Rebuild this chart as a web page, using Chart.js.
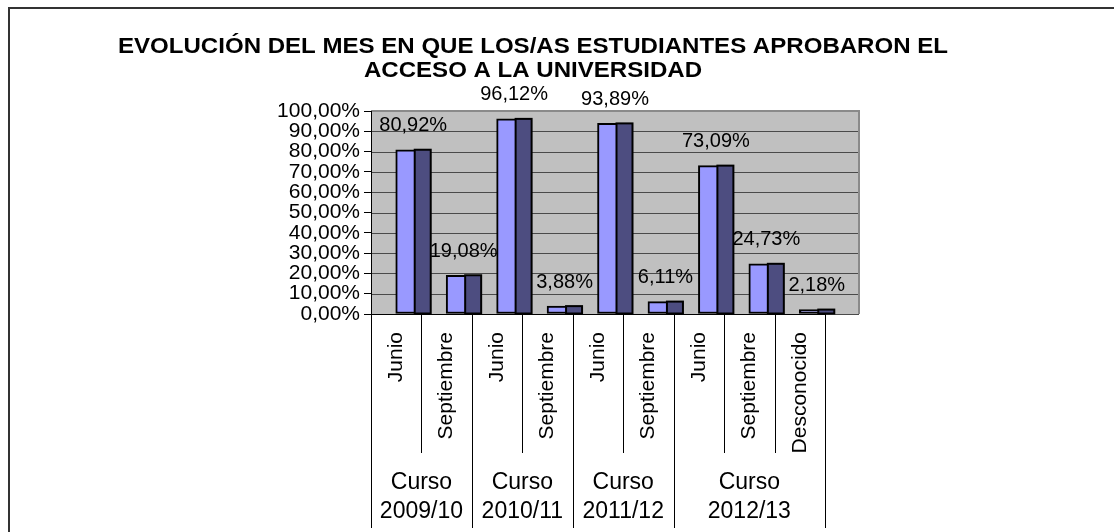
<!DOCTYPE html>
<html>
<head>
<meta charset="utf-8">
<script src="https://cdn.jsdelivr.net/npm/chart.js@4.4.1/dist/chart.umd.min.js"></script>
<style>
  html, body { margin: 0; padding: 0; background: #fff; }
  #wrap { position: relative; width: 1114px; height: 532px; overflow: hidden; }
  #frame { position: absolute; left: 8px; top: 7px; width: 1200px; height: 600px; border: 2px solid #333; pointer-events: none; }
  canvas { position: absolute; left: 0; top: 0; }
</style>
</head>
<body>
<div id="wrap">
  <canvas id="chart" width="1114" height="532"></canvas>
  <div id="frame"></div>
</div>
<script>
// --- data ---
const TITLE = ['EVOLUCIÓN DEL MES EN QUE LOS/AS ESTUDIANTES APROBARON EL', 'ACCESO A LA UNIVERSIDAD'];
const MONTHS = ['Junio', 'Septiembre', 'Junio', 'Septiembre', 'Junio', 'Septiembre', 'Junio', 'Septiembre', 'Desconocido'];
const COURSES = [['Curso', '2009/10'], ['Curso', '2010/11'], ['Curso', '2011/12'], ['Curso', '2012/13']];
const COURSE_SIZES = [2, 2, 2, 3];
const PERCENT = [80.92, 19.08, 96.12, 3.88, 93.89, 6.11, 73.09, 24.73, 2.18];
const Y_TICKS = [0, 10, 20, 30, 40, 50, 60, 70, 80, 90, 100];

// --- look ---
const FONT = '"Liberation Sans", Arial, sans-serif';
const DEPTH = 34;   // back wall sticks out to the right (3d look)
const SHIFT = 17;   // bars sit halfway into the depth
const SIDE = 16;    // dark side face width
const TITLE_CX = 533, TITLE_Y = 47, TITLE_LH = 24, TITLE_W = 830;

const fmt = v => v.toFixed(2).replace('.', ',') + '%';

const decor = {
  id: 'decor',
  beforeDraw(chart) {
    const { ctx, chartArea: a, scales: { y } } = chart;
    ctx.save();
    ctx.fillStyle = '#c0c0c0';
    ctx.fillRect(a.left, a.top, a.right + DEPTH - a.left, a.bottom - a.top);
    ctx.strokeStyle = '#4a4a4a';
    ctx.lineWidth = 1;
    Y_TICKS.forEach(v => {
      const py = Math.round(y.getPixelForValue(v)) + 0.5;
      ctx.beginPath();
      ctx.moveTo(a.left, py);
      ctx.lineTo(a.right + DEPTH, py);
      ctx.stroke();
    });
    ctx.strokeStyle = '#8a8a8a';
    ctx.lineWidth = 2;
    ctx.beginPath();
    ctx.moveTo(a.left, a.top);
    ctx.lineTo(a.right + DEPTH, a.top);
    ctx.lineTo(a.right + DEPTH, a.bottom);
    ctx.stroke();
    ctx.restore();
  },
  beforeDatasetsDraw(chart) {
    chart.ctx.save();
    chart.ctx.translate(SHIFT, 0);
  },
  afterDatasetsDraw(chart) {
    const { ctx } = chart;
    const bars = chart.getDatasetMeta(0).data;
    bars.forEach(b => {
      const r = b.x + b.width / 2;
      ctx.fillStyle = '#4d4d80';
      ctx.fillRect(r - SIDE, b.y, SIDE, b.base - b.y);
      ctx.strokeStyle = '#000';
      ctx.lineWidth = 2;
      ctx.strokeRect(r - SIDE, b.y, SIDE, b.base - b.y);
    });
    ctx.restore();

    // value labels
    ctx.save();
    ctx.font = '20px ' + FONT;
    ctx.fillStyle = '#000';
    ctx.textAlign = 'center';
    ctx.textBaseline = 'middle';
    bars.forEach((b, i) => ctx.fillText(fmt(PERCENT[i]), b.x + SHIFT, b.y - 24));
    ctx.restore();
  },
  afterDraw(chart) {
    const { ctx, chartArea: a, scales: { x } } = chart;

    // title: bold, slightly widened like the original
    ctx.save();
    ctx.font = 'bold 22px ' + FONT;
    ctx.fillStyle = '#000';
    ctx.textAlign = 'center';
    ctx.textBaseline = 'middle';
    const k = TITLE_W / ctx.measureText(TITLE[0]).width;
    TITLE.forEach((t, i) => {
      ctx.save();
      ctx.translate(TITLE_CX, TITLE_Y + i * TITLE_LH);
      ctx.scale(k, 1);
      ctx.fillText(t, 0, 0);
      ctx.restore();
    });
    ctx.restore();

    // category separators and course labels under the axis
    const half = (x.getPixelForValue(1) - x.getPixelForValue(0)) / 2;
    const edges = [0];
    COURSE_SIZES.forEach(n => edges.push(edges[edges.length - 1] + n));
    ctx.save();
    ctx.strokeStyle = '#000';
    ctx.lineWidth = 1;
    for (let i = 0; i <= MONTHS.length; i++) {
      const px = Math.round(x.getPixelForValue(i) - half) + 0.5;
      const long = edges.includes(i);
      ctx.beginPath();
      ctx.moveTo(px, a.bottom);
      ctx.lineTo(px, a.bottom + (long ? 214 : 139));
      ctx.stroke();
    }
    ctx.font = '23px ' + FONT;
    ctx.fillStyle = '#000';
    ctx.textAlign = 'center';
    ctx.textBaseline = 'middle';
    COURSES.forEach((lines, g) => {
      const l = x.getPixelForValue(edges[g]) - half;
      const r = x.getPixelForValue(edges[g + 1]) - half;
      ctx.fillText(lines[0], (l + r) / 2, a.bottom + 169);
      ctx.fillText(lines[1], (l + r) / 2, a.bottom + 198);
    });
    ctx.restore();
  }
};

new Chart(document.getElementById('chart'), {
  type: 'bar',
  data: {
    labels: MONTHS,
    datasets: [{
      data: PERCENT,
      backgroundColor: '#9999ff',
      borderColor: '#000',
      borderWidth: 2,
      borderSkipped: false,
      barThickness: 35
    }]
  },
  options: {
    responsive: false,
    animation: false,
    layout: { padding: { left: 0, right: 289, top: 111, bottom: 0 } },
    plugins: {
      legend: { display: false },
      tooltip: { enabled: false },
      title: { display: false }
    },
    scales: {
      x: {
        grid: { display: false },
        border: { display: true, color: '#000', width: 1 },
        ticks: {
          color: '#000',
          font: { family: FONT, size: 21 },
          minRotation: 90,
          maxRotation: 90,
          autoSkip: false,
          padding: 10
        },
        afterFit: s => { s.height = 218; }
      },
      y: {
        min: 0,
        max: 100,
        grid: { drawOnChartArea: false, color: '#000', tickLength: 7 },
        border: { display: true, color: '#000', width: 1 },
        ticks: {
          color: '#000',
          font: { family: FONT, size: 21 },
          padding: 4,
          autoSkip: false,
          callback: v => fmt(v)
        },
        afterBuildTicks: s => { s.ticks = Y_TICKS.map(v => ({ value: v })); },
        afterFit: s => { s.width = 371; }
      }
    }
  },
  plugins: [decor]
});
</script>
</body>
</html>
